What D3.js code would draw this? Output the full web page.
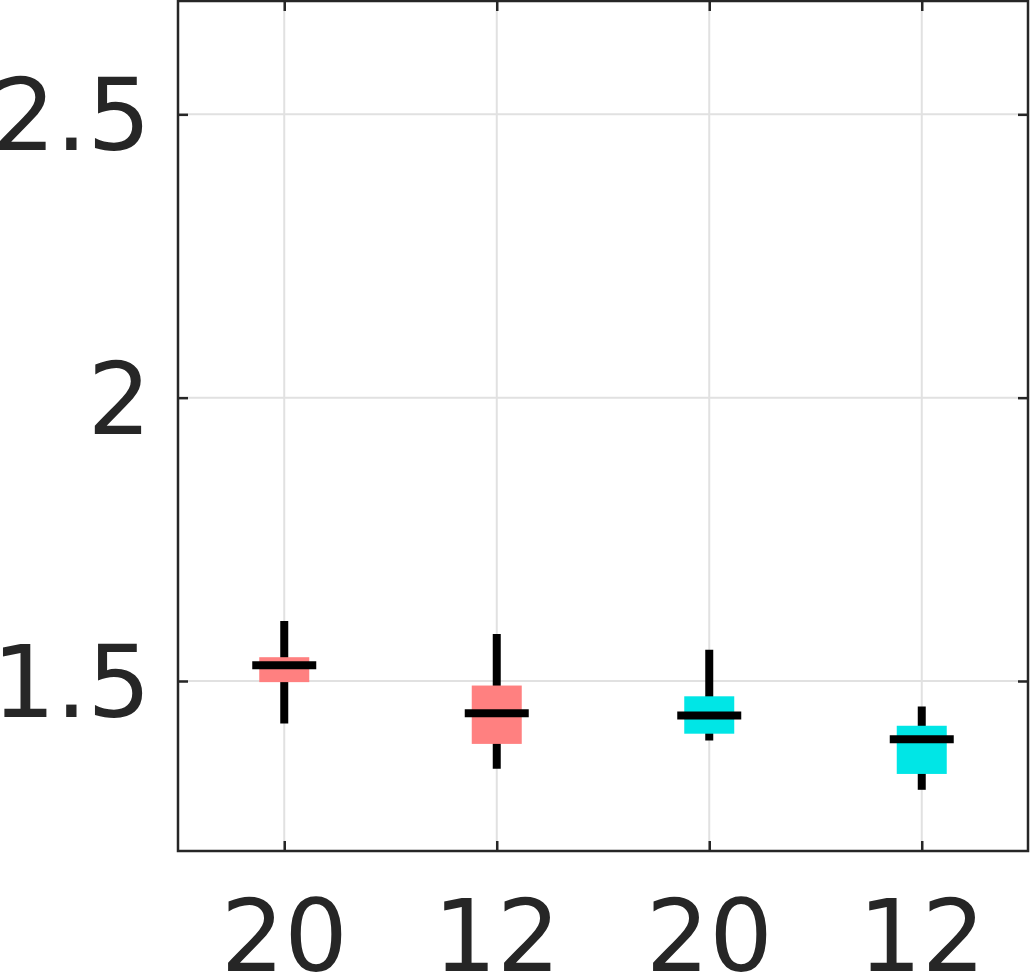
<!DOCTYPE html>
<html><head><meta charset="utf-8">
<script src="https://cdn.jsdelivr.net/npm/d3@7"></script>
<style>html,body{margin:0;padding:0;background:#fff;}svg{display:block;}</style>
</head><body>
<script>
const categories = ["20", "12", "20", "12"];
const groupColors = ["#ff8080", "#ff8080", "#00e6e6", "#00e6e6"];
const whiskerHigh = [1.606, 1.583, 1.555, 1.455];
const q3 = [1.542, 1.492, 1.473, 1.421];
const medians = [1.528, 1.443, 1.439, 1.397];
const q1 = [1.498, 1.389, 1.407, 1.336];
const whiskerLow = [1.425, 1.345, 1.395, 1.308];
const yTicks = [1.5, 2, 2.5];
const yTickLabels = ["1.5", "2", "2.5"];

const W = 1031, H = 973;
const mLeft = 178, mRight = 1028, mTop = 1, mBottom = 851;
const svg = d3.select("body").append("svg").attr("width", W).attr("height", H);

const x = d3.scaleLinear().domain([0.5, categories.length + 0.5]).range([mLeft, mRight]);
const y = d3.scaleLinear().domain([1.2, 2.7]).range([mBottom, mTop]);

const ink = "#262626";
// grid
svg.append("g").selectAll("line").data(yTicks).join("line")
  .attr("x1", mLeft).attr("x2", mRight).attr("y1", d => y(d)).attr("y2", d => y(d))
  .attr("stroke", "#e1e1e1").attr("stroke-width", 2);
svg.append("g").selectAll("line").data(categories).join("line")
  .attr("x1", (d, i) => x(i + 1)).attr("x2", (d, i) => x(i + 1)).attr("y1", mTop).attr("y2", mBottom)
  .attr("stroke", "#e1e1e1").attr("stroke-width", 2);

// boxes
const idx = d3.range(categories.length);
const gW = svg.append("g"), gB = svg.append("g"), gM = svg.append("g");
gW.selectAll("line").data(idx).join("line")
  .attr("x1", i => x(i + 1)).attr("x2", i => x(i + 1))
  .attr("y1", i => y(whiskerHigh[i])).attr("y2", i => y(whiskerLow[i]))
  .attr("stroke", "#000").attr("stroke-width", 8);
gB.selectAll("rect").data(idx).join("rect")
  .attr("x", i => x(i + 1) - 25).attr("width", 50)
  .attr("y", i => y(q3[i])).attr("height", i => y(q1[i]) - y(q3[i]))
  .attr("fill", i => groupColors[i]);
gM.selectAll("line").data(idx).join("line")
  .attr("x1", i => x(i + 1) - 32).attr("x2", i => x(i + 1) + 32)
  .attr("y1", i => y(medians[i])).attr("y2", i => y(medians[i]))
  .attr("stroke", "#000").attr("stroke-width", 8);

// axes (inward ticks, box)
const tl = 10;
const axL = svg.append("g").attr("transform", `translate(${mLeft},0)`)
  .call(d3.axisRight(y).tickValues(yTicks).tickSize(tl).tickFormat(""));
const axR = svg.append("g").attr("transform", `translate(${mRight},0)`)
  .call(d3.axisLeft(y).tickValues(yTicks).tickSize(tl).tickFormat(""));
const axB = svg.append("g").attr("transform", `translate(0,${mBottom})`)
  .call(d3.axisTop(x).tickValues(idx.map(i => i + 1)).tickSize(tl).tickFormat(""));
const axT = svg.append("g").attr("transform", `translate(0,${mTop})`)
  .call(d3.axisBottom(x).tickValues(idx.map(i => i + 1)).tickSize(tl).tickFormat(""));
[axL, axR, axB, axT].forEach(a => {
  a.select(".domain").remove();
  a.selectAll(".tick line").attr("stroke", ink).attr("stroke-width", 2.5);
});
svg.append("rect").attr("x", mLeft).attr("y", mTop).attr("width", mRight - mLeft).attr("height", mBottom - mTop)
  .attr("fill", "none").attr("stroke", ink).attr("stroke-width", 2.5);

// labels
svg.append("g").selectAll("text").data(yTicks).join("text")
  .attr("x", mLeft - 27).attr("y", d => y(d)).attr("dy", "0.36em")
  .attr("text-anchor", "end").attr("font-family", "DejaVu Sans").attr("font-size", 100)
  .attr("fill", ink).text((d, i) => yTickLabels[i]);
svg.append("g").selectAll("text").data(categories).join("text")
  .attr("x", (d, i) => x(i + 1)).attr("y", 971)
  .attr("text-anchor", "middle").attr("font-family", "DejaVu Sans").attr("font-size", 100)
  .attr("fill", ink).text(d => d);
</script>
</body></html>
